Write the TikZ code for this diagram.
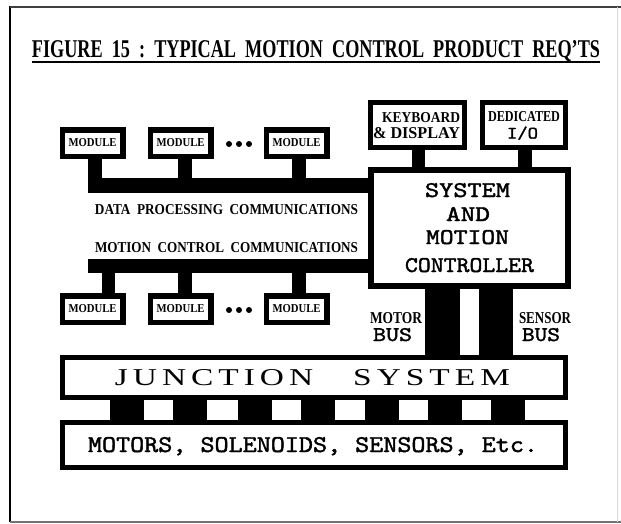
\documentclass[tikz,border=0pt]{standalone}
\usepackage{graphicx}
\usepackage{fontspec}
\setmainfont{Liberation Serif}
\newfontfamily\ttw[FakeBold=1.6]{lmmono10-regular.otf}
\newfontfamily\juncfont[LetterSpace=15]{Liberation Serif}
\usetikzlibrary{backgrounds}
\newcommand{\rsz}[3]{\resizebox{#1pt}{#2pt}{#3}}

\begin{document}
\begin{tikzpicture}[x=1pt,y=-1pt,
  box/.style={draw,fill=white,rectangle,inner sep=0pt,outer sep=0pt},
  module/.style={box,line width=5.5pt,minimum width=60.5pt,minimum height=26.5pt},
  lbl/.style={inner sep=0pt,outer sep=0pt},
  dotnode/.style={circle,fill,inner sep=0pt,minimum size=6pt},
]
\useasboundingbox (0,0) rectangle (621,523);

% frame
\draw[line width=2.5pt] (10,6) -- (10,522);
\draw[line width=1.5pt,black!75] (10,7) -- (621,7);
\draw[line width=1.5pt,black!55] (10,522) -- (621,522);
\draw[line width=1pt,black!15] (617,7) -- (617,522);

% title
\node[lbl,anchor=base] (title) at (316,57) {\rsz{568}{17}{\bfseries FIGURE\ \ 15\ \ :\ \ TYPICAL\ \ MOTION\ \ CONTROL\ \ PRODUCT\ \ REQ'TS}};
\draw[line width=2pt] ([yshift=-5pt]title.base west) -- ([yshift=-5pt]title.base east);

% modules
\node[module] (tm1) at (92.5,143) {\rsz{48}{8}{\bfseries MODULE}};
\node[module] (tm2) at (180.5,143) {\rsz{48}{8}{\bfseries MODULE}};
\node[module] (tm3) at (296.5,143) {\rsz{48}{8}{\bfseries MODULE}};
\node[module] (bm1) at (92.5,309) {\rsz{48}{8}{\bfseries MODULE}};
\node[module] (bm2) at (180.5,309) {\rsz{48}{8}{\bfseries MODULE}};
\node[module] (bm3) at (296.5,309) {\rsz{48}{8}{\bfseries MODULE}};
\node[dotnode] (td1) at (229,144) {};
\node[dotnode] (td2) at (239,144) {};
\node[dotnode] (td3) at (249,144) {};
\node[dotnode] (bd1) at (229,310) {};
\node[dotnode] (bd2) at (239,310) {};
\node[dotnode] (bd3) at (249,310) {};

% communications labels
\node[lbl,anchor=base] (dpc) at (226.5,214) {\rsz{263}{10}{\bfseries DATA\ \ PROCESSING\ \ COMMUNICATIONS}};
\node[lbl,anchor=base] (mcc) at (226.5,252) {\rsz{263}{10}{\bfseries MOTION\ \ CONTROL\ \ COMMUNICATIONS}};

% controller
\node[box,line width=6pt,minimum width=197pt,minimum height=116pt] (ctrl) at (469.5,228) {};
\node[lbl,anchor=base] (c1) at (467.5,197) {\rsz{85}{14}{\ttw SYSTEM}};
\node[lbl,anchor=base] (c2) at (468,221) {\rsz{44}{14}{\ttw AND}};
\node[lbl,anchor=base] (c3) at (467.5,244) {\rsz{83}{14}{\ttw MOTION}};
\node[lbl,anchor=base] (c4) at (469.5,272) {\rsz{129}{14}{\ttw CONTROLLER}};

% keyboard & dedicated
\node[box,line width=5pt,minimum width=94pt,minimum height=45pt] (kbd) at (417.5,125) {};
\node[lbl,anchor=base] (k1) at (421,122) {\rsz{78}{10}{\bfseries KEYBOARD}};
\node[lbl,anchor=base] (k2) at (416.5,138) {\rsz{87}{11}{\bfseries \&\ DISPLAY}};
\node[box,line width=5pt,minimum width=83pt,minimum height=45pt] (ded) at (524,125) {};
\node[lbl,anchor=base] (d1) at (524,121.5) {\rsz{72}{10}{\bfseries DEDICATED}};
\node[lbl,anchor=base] (d2) at (522.5,138.5) {\rsz{31}{12}{\ttw I/O}};

% bus labels
\node[lbl,anchor=base] (ml1) at (396,323) {\rsz{52}{11}{\bfseries MOTOR}};
\node[lbl,anchor=base] (ml2) at (392.5,341) {\rsz{39}{13}{\ttw BUS}};
\node[lbl,anchor=base] (sl1) at (545,323) {\rsz{52}{11}{\bfseries SENSOR}};
\node[lbl,anchor=base] (sl2) at (541,341) {\rsz{38}{13}{\ttw BUS}};

% junction & motors
\node[box,line width=5pt,minimum width=503pt,minimum height=40pt] (junc) at (314,377.5) {};
\node[lbl,anchor=base] (jt) at (312.5,385) {\rsz{395}{16}{\juncfont JUNCTION\hspace{1.2em}SYSTEM}};
\node[box,line width=5pt,minimum width=503pt,minimum height=45pt] (mot) at (314,445) {};
\node[lbl,anchor=base] (mt) at (313,452) {\rsz{450}{15}{\ttw MOTORS, SOLENOIDS, SENSORS, Etc.}};

% buses (behind boxes)
\begin{scope}[on background layer]
\coordinate (tb) at (88,185.5);
\coordinate (bb) at (88,266);
\draw[line width=15pt] (tb) -- (tb -| ctrl.center);
\draw[line width=14pt] (bb) -- (bb -| ctrl.center);
\draw[line width=14pt] ([xshift=2.5pt]tm1.center) -- ([xshift=2.5pt]tm1.center |- tb);
\draw[line width=14pt] ([xshift=4.5pt]tm2.center) -- ([xshift=4.5pt]tm2.center |- tb);
\draw[line width=14pt] ([xshift=2pt]tm3.center) -- ([xshift=2pt]tm3.center |- tb);
\draw[line width=13pt] ([xshift=16pt]bm1.center) -- ([xshift=16pt]bm1.center |- bb);
\draw[line width=14pt] ([xshift=4.5pt]bm2.center) -- ([xshift=4.5pt]bm2.center |- bb);
\draw[line width=14pt] ([xshift=2pt]bm3.center) -- ([xshift=2pt]bm3.center |- bb);
\draw[line width=13pt] ([xshift=1pt]kbd.center) -- ([xshift=1pt]kbd.center |- ctrl.center);
\draw[line width=14pt] ([xshift=1pt]ded.center) -- ([xshift=1pt]ded.center |- ctrl.center);
\draw[line width=35pt] ([xshift=-27pt]ctrl.center) -- ([xshift=-27pt]ctrl.center |- junc.center);
\draw[line width=34pt] ([xshift=26.5pt]ctrl.center) -- ([xshift=26.5pt]ctrl.center |- junc.center);
\foreach \dx in {-187.5,-124,-59.5,3.5,67.5,130.5,193.5}
  \draw[line width=34pt] ([xshift=\dx pt]junc.center) -- ([xshift=\dx pt]junc.center |- mot.center);
\end{scope}
\end{tikzpicture}
\end{document}
